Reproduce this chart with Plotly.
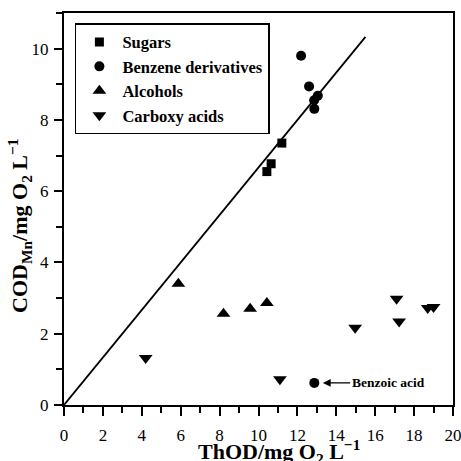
import plotly.graph_objects as go

# Data
sugars_x = [10.43, 10.65, 11.2]
sugars_y = [6.55, 6.77, 7.35]

benzene_x = [12.19, 12.6, 13.05, 12.86, 12.87, 12.87]
benzene_y = [9.8, 8.94, 8.68, 8.55, 8.31, 0.62]

alcohols_x = [5.88, 8.2, 9.57, 10.43]
alcohols_y = [3.4, 2.56, 2.7, 2.86]

carboxy_x = [4.2, 11.1, 14.97, 17.1, 17.23, 18.7, 19.0]
carboxy_y = [1.32, 0.72, 2.17, 2.98, 2.34, 2.72, 2.75]

line_x = [0, 15.5]
line_y = [0, 10.33]

benzoic_x = 12.87
benzoic_y = 0.62

x_ticks = [0, 2, 4, 6, 8, 10, 12, 14, 16, 18, 20]
y_ticks = [0, 2, 4, 6, 8, 10]

FONT = "Liberation Serif, Times New Roman, serif"

fig = go.Figure()

fig.add_trace(go.Scatter(x=line_x, y=line_y, mode="lines",
                         line=dict(color="black", width=1.8),
                         showlegend=False, hoverinfo="skip"))

fig.add_trace(go.Scatter(x=sugars_x, y=sugars_y, mode="markers", name="<b>Sugars</b>",
                         marker=dict(symbol="square", size=9, color="black")))
fig.add_trace(go.Scatter(x=benzene_x, y=benzene_y, mode="markers", name="<b>Benzene derivatives</b>",
                         marker=dict(symbol="circle", size=10, color="black")))
fig.add_trace(go.Scatter(x=alcohols_x, y=alcohols_y, mode="markers", name="<b>Alcohols</b>",
                         marker=dict(symbol="triangle-up", size=12, color="black")))
fig.add_trace(go.Scatter(x=carboxy_x, y=carboxy_y, mode="markers", name="<b>Carboxy acids</b>",
                         marker=dict(symbol="triangle-down", size=12, color="black")))

fig.add_annotation(x=benzoic_x + 0.44, y=benzoic_y, ax=benzoic_x + 1.92, ay=benzoic_y,
                   xref="x", yref="y", axref="x", ayref="y",
                   text="", showarrow=True, arrowhead=2, arrowsize=1.3,
                   arrowwidth=1.2, arrowcolor="black")
fig.add_annotation(x=benzoic_x + 1.92, y=benzoic_y, xref="x", yref="y",
                   text="<b>Benzoic acid</b>", showarrow=False, xanchor="left",
                   xshift=-2, font=dict(family=FONT, size=13.5, color="black"))

# Axis titles as annotations for exact placement
fig.add_annotation(x=0.553, y=-0.118, xref="paper", yref="paper",
                   text="<b>ThOD/mg O<sub>2</sub> L<sup>−1</sup></b>", showarrow=False,
                   xanchor="center", yanchor="middle",
                   font=dict(family=FONT, size=22, color="black"))
fig.add_annotation(x=-0.113, y=0.457, xref="paper", yref="paper",
                   text="<b>COD<sub>Mn</sub>/mg O<sub>2</sub> L<sup>−1</sup></b>", showarrow=False,
                   xanchor="center", yanchor="middle", textangle=-90,
                   font=dict(family=FONT, size=22, color="black"))

axis_common = dict(
    showgrid=False, zeroline=False, showline=True, linecolor="black", linewidth=2,
    mirror=True, ticks="outside", tickcolor="black", tickwidth=1.5,
    tickfont=dict(family=FONT, size=17, color="black"), automargin=False,
    ticklabeloverflow="allow",
)

fig.update_xaxes(range=[0, 20], tickvals=x_ticks, ticklen=9, ticklabelstandoff=5,
                 minor=dict(dtick=1, ticks="outside", ticklen=6, tickcolor="black", tickwidth=1.5),
                 **axis_common)
fig.update_yaxes(range=[0, 11], tickvals=y_ticks, ticklen=8, ticklabelstandoff=2,
                 minor=dict(dtick=1, ticks="outside", ticklen=6, tickcolor="black", tickwidth=1.5),
                 **axis_common)

fig.update_layout(
    width=461, height=461,
    margin=dict(l=64, r=8, t=13, b=56),
    paper_bgcolor="white", plot_bgcolor="white",
    font=dict(family=FONT, color="black"),
    legend=dict(x=0.028, y=0.974, xanchor="left", yanchor="top",
                bordercolor="black", borderwidth=1.5, bgcolor="white",
                font=dict(family=FONT, size=16.5, color="black"),
                itemwidth=36, tracegroupgap=0),
)

fig.write_html("out.html", config={"displayModeBar": False},
               post_script="document.body.style.margin='0';document.body.style.overflow='hidden';")
